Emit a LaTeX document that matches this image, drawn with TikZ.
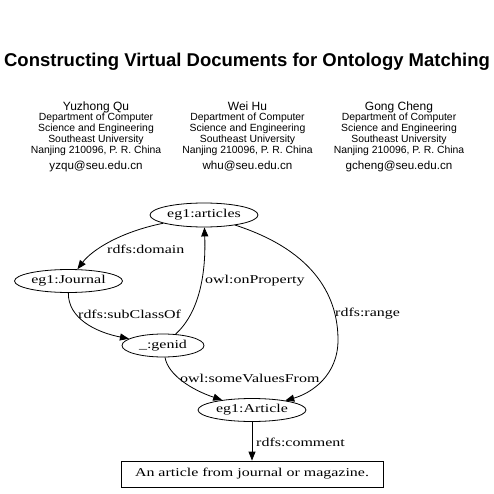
\documentclass[tikz,border=0pt]{standalone}
\usepackage{fontspec}
\setmainfont{Liberation Serif}
\setsansfont{Liberation Sans}
\newfontfamily\graphfont[FakeStretch=1.33]{Liberation Serif}
\usetikzlibrary{shapes.geometric,arrows.meta,positioning}

\begin{document}
\begin{tikzpicture}[x=1pt,y=1pt,
  res/.style={ellipse,draw,line width=0.8pt,minimum width=108pt,minimum height=23pt,
    inner sep=0pt,font=\graphfont\fontsize{12}{14}\selectfont},
  lit/.style={rectangle,draw,line width=0.8pt,minimum width=262pt,minimum height=26pt,
    inner sep=0pt,font=\graphfont\fontsize{12}{14}\selectfont},
  rel/.style={draw,line width=0.8pt,-{Triangle[length=9pt,width=7pt]}},
  lbl/.style={anchor=west,inner sep=0pt,font=\graphfont\fontsize{12}{14}\selectfont},
  affil/.style={anchor=base,inner sep=0pt,font=\sffamily\fontsize{10.4}{11}\selectfont}]
\useasboundingbox (0,0) rectangle (493,-494);

% title and authors
\node[font=\sffamily\bfseries\fontsize{18.5}{22}\selectfont] (title) at (247,-62)
  {Constructing Virtual Documents for Ontology Matching};
\foreach \x/\nm/\mail/\id in {96/Yuzhong Qu/yzqu@seu.edu.cn/qu,
    247.5/Wei Hu/whu@seu.edu.cn/hu, 399/Gong Cheng/gcheng@seu.edu.cn/cheng}{
  \node[anchor=base,font=\sffamily\fontsize{12}{14}\selectfont,inner sep=0pt] (name-\id) at (\x,-111) {\nm};
  \node[affil] (dept-\id) at (\x,-121) {Department of Computer};
  \node[affil] (sci-\id) at (\x,-132) {Science and Engineering};
  \node[affil] (univ-\id) at (\x,-143) {Southeast University};
  \node[affil] (city-\id) at (\x,-154) {Nanjing 210096, P. R. China};
  \node[anchor=base,font=\sffamily\fontsize{11.6}{14}\selectfont,inner sep=0pt] (mail-\id) at (\x,-170) {\mail};
}

% graph
\node[res,minimum height=24pt] (articles) at (204,-215) {eg1:articles};
\node[res] (journal) at (68.5,-281) {eg1:Journal};
\node[res,minimum width=82pt] (genid) at (163,-345.5) {\_:genid};
\node[res] (article) at (252,-410) {eg1:Article};
\node[lit] (comment) at (252,-474) {An article from journal or magazine.};

\draw[rel] (articles) .. controls (120,-232) and (92,-250) .. (journal);
\draw[rel] (journal) .. controls (68,-318) and (95,-332) .. (genid);
\draw[rel] (genid) .. controls (200,-312) and (206,-272) .. (articles);
\draw[rel] (articles) .. controls (318,-252) and (338,-300) .. (338,-340)
  .. controls (338,-375) and (312,-393) .. (article);
\draw[rel] (genid) .. controls (168,-375) and (192,-390) .. (article);
\draw[rel] (article) -- (comment);

\node[lbl] (l-domain) at (107,-249) {rdfs:domain};
\node[lbl] (l-sub) at (78,-314) {rdfs:subClassOf};
\node[lbl] (l-onprop) at (205,-281) {owl:onProperty};
\node[lbl] (l-range) at (335,-314) {rdfs:range};
\node[lbl] (l-some) at (180,-378) {owl:someValuesFrom};
\node[lbl] (l-comment) at (256,-442) {rdfs:comment};
\end{tikzpicture}
\end{document}
